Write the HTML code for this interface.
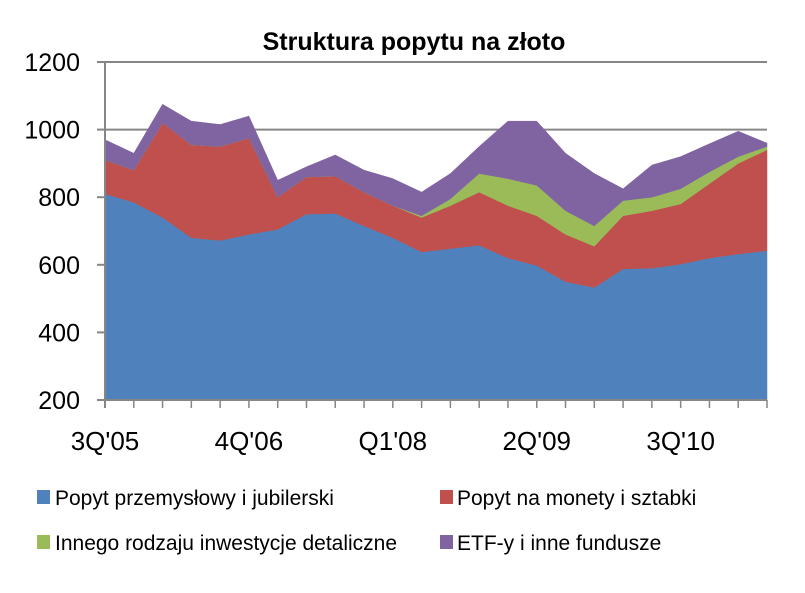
<!DOCTYPE html>
<html><head><meta charset="utf-8"><style>
body{margin:0;background:#fff;width:805px;height:588px;overflow:hidden}
svg text{font-family:"Liberation Sans",Arial,sans-serif}
</style></head><body>
<svg id="chart" width="805" height="588">
<text x="414" y="50" text-anchor="middle" font-size="25" font-weight="bold">Struktura popytu na złoto</text>
<g id="grid"></g><g id="areas"></g><g id="axes"></g>
<g>
<g><rect x="37" y="490" width="13" height="14" fill="#4F81BD"/><text x="55" y="505" font-size="21">Popyt przemysłowy i jubilerski</text></g>
<g><rect x="440" y="490" width="13" height="14" fill="#C0504D"/><text x="457" y="505" font-size="21">Popyt na monety i sztabki</text></g>
<g><rect x="37" y="535" width="13" height="14" fill="#9BBB59"/><text x="55" y="550" font-size="21">Innego rodzaju inwestycje detaliczne</text></g>
<g><rect x="440" y="535" width="13" height="14" fill="#8064A2"/><text x="457" y="550" font-size="21">ETF-y i inne fundusze</text></g>
</g>
</svg>
<script>
const categories=["3Q'05","4Q'05","1Q'06","2Q'06","3Q'06","4Q'06","1Q'07","2Q'07","3Q'07","4Q'07","Q1'08","2Q'08","3Q'08","4Q'08","1Q'09","2Q'09","3Q'09","4Q'09","1Q'10","2Q'10","3Q'10","4Q'10","1Q'11","2Q'11"];
const industrial=[810,785,740,680,672,690,705,750,752,715,680,638,648,658,620,598,550,533,588,590,602,620,632,642];
const coins=[100,95,280,275,278,285,95,110,110,100,95,102,127,157,155,147,140,122,157,170,178,220,268,298];
const retail=[0,0,0,0,0,0,0,0,0,0,0,5,20,55,80,90,70,60,45,40,45,35,20,10];
const etf=[60,50,55,70,65,65,50,30,63,65,80,70,75,80,170,190,170,155,35,95,95,83,75,10];
const yTicks=[200,400,600,800,1000,1200];
const xLabels=["3Q'05","4Q'06","Q1'08","2Q'09","3Q'10"];
const NS='http://www.w3.org/2000/svg';
const L=105,R=767,T=62,B=400,ymin=200,ymax=1200;
const x=i=>L+i*(R-L)/(categories.length-1);
const y=v=>B-(v-ymin)/(ymax-ymin)*(B-T);
function mk(tag,attrs,parent){const e=document.createElementNS(NS,tag);for(const k in attrs)e.setAttribute(k,attrs[k]);document.getElementById(parent).appendChild(e);return e;}
yTicks.forEach(t=>{
 if(t>ymin){const g=mk('line',{x1:L,x2:R,y1:y(t),y2:y(t),stroke:'#868686','stroke-width':2},'grid');
 
 }
 const tk=mk('line',{x1:L-8,x2:L,y1:y(t),y2:y(t),stroke:'#868686','stroke-width':2},'axes');
 
 
 const tx=mk('text',{x:80,y:y(t)+9,'text-anchor':'end','font-size':25},'axes');
 tx.textContent=t;
 
 
});
const series=[[industrial,'#4F81BD','area-industrial'],[coins,'#C0504D','area-coins'],[retail,'#9BBB59','area-retail'],[etf,'#8064A2','area-etf']];
let cum=categories.map(()=>0);
series.forEach(([vals,col,name],si)=>{
 const lower=cum.slice();
 const upper=cum.map((c,i)=>c+vals[i]);
 let pts=upper.map((v,i)=>x(i)+','+y(v));
 for(let i=categories.length-1;i>=0;i--)pts.push(x(i)+','+y(si===0?ymin:lower[i]));
 const p=mk('polygon',{points:pts.join(' '),fill:col,stroke:col,'stroke-width':0.5},'areas');
 
 
 cum=upper;
});
const ax=mk('line',{x1:L,x2:L,y1:T,y2:B+8,stroke:'#868686','stroke-width':2},'axes');


const xa=mk('line',{x1:L,x2:R,y1:B,y2:B,stroke:'#868686','stroke-width':2},'axes');


categories.forEach((c,i)=>{
 const t=mk('line',{x1:x(i),x2:x(i),y1:B,y2:B+8,stroke:'#868686','stroke-width':1.5},'axes');
 
 
 if(xLabels.includes(c)){
  const tx=mk('text',{x:x(i),y:450,'text-anchor':'middle','font-size':26},'axes');
  tx.textContent=c;
  
  
 }
});
</script>
</body></html>
